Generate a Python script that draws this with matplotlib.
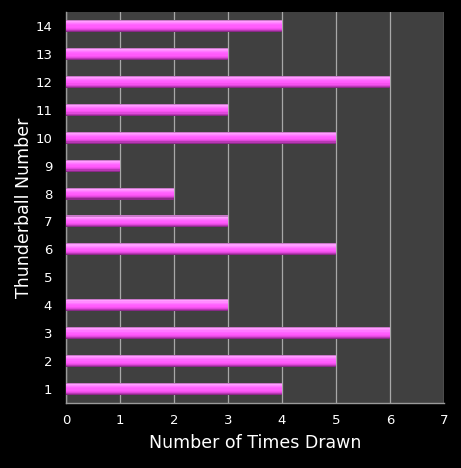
import numpy as np
import matplotlib
matplotlib.use("Agg")
import matplotlib.pyplot as plt

# data
numbers = [1, 2, 3, 4, 5, 6, 7, 8, 9, 10, 11, 12, 13, 14]
times_drawn = [4, 5, 6, 3, 0, 5, 3, 2, 1, 5, 3, 6, 3, 4]
x_ticks = [0, 1, 2, 3, 4, 5, 6, 7]

BG_FIG = "black"
BG_AX = "#404040"
GRID = "#a8a8a8"
TEXT = "white"

# vertical colour profile of a bar (top -> bottom)
profile = ["#c878c8", "#ff9eff", "#ff8cff", "#ff78ff", "#ff66ff",
           "#ff5efd", "#ff5afb", "#f552f0", "#e048dc", "#b838b4", "#8a2a88"]

BAR_H = 0.43

fig = plt.figure(figsize=(4.61, 4.68), dpi=100)
fig.patch.set_facecolor(BG_FIG)
ax = fig.add_axes([66 / 461, 65 / 468, 378 / 461, 391 / 468])
ax.set_facecolor(BG_AX)

# gradient bars: each layer runs from its own top down to the bar bottom,
# drawn top layer first so the next one covers the lower part
n = len(profile)
sl = BAR_H / n
y = np.array(numbers, dtype=float)
for k, col in enumerate(profile):
    top = y + BAR_H / 2 - k * sl
    bottom = y - BAR_H / 2
    ax.barh(bottom, times_drawn, height=top - bottom, align="edge",
            color=col, linewidth=0, zorder=3)

ax.set_xlim(0, 7)
ax.set_ylim(0.5, 14.5)
ax.set_xticks(x_ticks)
ax.set_yticks(numbers)
ax.set_yticklabels([str(v) for v in numbers])

ax.grid(axis="x", color=GRID, linewidth=0.9, zorder=1)
ax.set_axisbelow(True)

for side in ["top", "right"]:
    ax.spines[side].set_visible(False)
for side in ["left", "bottom"]:
    ax.spines[side].set_color("#9a9a9a")
    ax.spines[side].set_linewidth(1.0)

ax.tick_params(colors=TEXT, labelsize=9.5, length=0, pad=8)
ax.tick_params(axis="y", pad=10)

ax.set_xlabel("Number of Times Drawn", color=TEXT, fontsize=12.5, labelpad=5)
ax.set_ylabel("Thunderball Number", color=TEXT, fontsize=12.5)
ax.yaxis.set_label_coords(-0.086, 0.5)

fig.savefig("out.png", dpi=100, facecolor=BG_FIG)
